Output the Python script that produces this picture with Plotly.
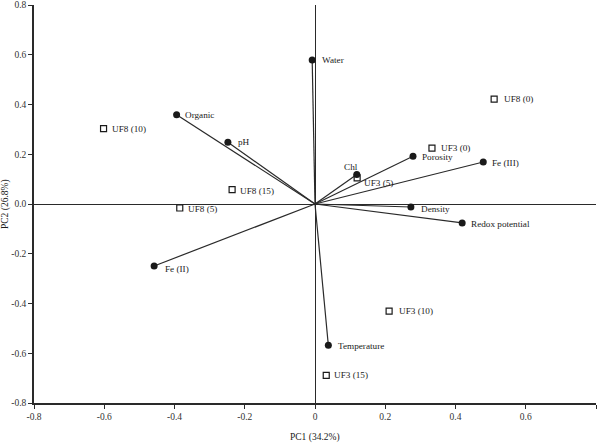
import plotly.graph_objects as go

# Variable loadings (filled circles, joined to origin)
var_names = ["Water", "Organic", "pH", "Chl", "Porosity", "Fe (III)", "Density",
             "Redox potential", "Temperature", "Fe (II)"]
var_pc1 = [-0.008, -0.394, -0.248, 0.119, 0.279, 0.479, 0.273, 0.419, 0.038, -0.458]
var_pc2 = [0.579, 0.359, 0.248, 0.119, 0.192, 0.169, -0.012, -0.076, -0.568, -0.249]

# Sample scores (open squares)
smp_names = ["UF8 (10)", "UF8 (15)", "UF8 (5)", "UF8 (0)", "UF3 (0)", "UF3 (5)",
             "UF3 (10)", "UF3 (15)"]
smp_pc1 = [-0.602, -0.236, -0.385, 0.510, 0.333, 0.120, 0.211, 0.032]
smp_pc2 = [0.303, 0.058, -0.016, 0.422, 0.225, 0.105, -0.431, -0.689]

tick_vals = [-0.8, -0.6, -0.4, -0.2, 0.0, 0.2, 0.4, 0.6, 0.8]
x_tick_text = ["-0.8", "-0.6", "-0.4", "-0.2", "0", "0.2", "0.4", "0.6", "0.8"]
y_tick_text = ["-0.8", "-0.6", "-0.4", "-0.2", "0.0", "0.2", "0.4", "0.6", "0.8"]

# label pixel offsets (x shift of left edge, y shift downward), by label
label_offsets = {
    "Water": (8, 0), "Organic": (6, 0), "pH": (8, 0), "Porosity": (7, 1),
    "Fe (III)": (7, 1), "Density": (8, 2), "Redox potential": (7, 1),
    "Temperature": (8, 1), "Fe (II)": (9, 3),
    "UF8 (10)": (6, 0), "UF8 (15)": (6, 1), "UF8 (5)": (6, 1), "UF8 (0)": (8, 0),
    "UF3 (0)": (7, 0), "UF3 (5)": (5, 5), "UF3 (10)": (8, 0), "UF3 (15)": (6, 0),
}

FONT = "Liberation Serif, Times New Roman, serif"
INK = "#1a1a1a"
LBL = 9.2

fig = go.Figure()

# vectors from origin
lx, ly = [], []
for x, y in zip(var_pc1, var_pc2):
    lx += [0, x, None]
    ly += [0, y, None]
fig.add_trace(go.Scatter(x=lx, y=ly, mode="lines",
                         line=dict(color="#2a2a2a", width=1.2), hoverinfo="skip"))

fig.add_trace(go.Scatter(x=var_pc1, y=var_pc2, mode="markers",
                         marker=dict(symbol="circle", size=7, color=INK),
                         text=var_names))
fig.add_trace(go.Scatter(x=smp_pc1, y=smp_pc2, mode="markers",
                         marker=dict(symbol="square-open", size=6, color=INK,
                                     line=dict(width=1.2, color=INK)),
                         text=smp_names))

annotations = []
for names, xs, ys in ((var_names, var_pc1, var_pc2), (smp_names, smp_pc1, smp_pc2)):
    for n, x, y in zip(names, xs, ys):
        if n == "Chl":
            annotations.append(dict(x=x, y=y, text=n, showarrow=False,
                                    xanchor="center", yanchor="middle",
                                    xshift=-6, yshift=7,
                                    font=dict(family=FONT, size=LBL, color=INK)))
            continue
        dx, dy = label_offsets[n]
        annotations.append(dict(x=x, y=y, text=n, showarrow=False,
                                xanchor="left", yanchor="middle",
                                xshift=dx, yshift=-dy,
                                font=dict(family=FONT, size=LBL, color=INK)))

annotations.append(dict(x=0.5, y=0, xref="paper", yref="paper", text="PC1 (34.2%)",
                        showarrow=False, yanchor="middle", yshift=-34,
                        font=dict(family=FONT, size=9.5, color=INK)))
annotations.append(dict(x=0, y=0.5, xref="paper", yref="paper", text="PC2 (26.8%)",
                        showarrow=False, textangle=-90, xanchor="center",
                        xshift=-29, font=dict(family=FONT, size=9.5, color=INK)))

axis_common = dict(
    range=[-0.8, 0.8], tickvals=tick_vals, showgrid=False, automargin=False,
    zeroline=True, zerolinecolor="#2a2a2a", zerolinewidth=1.2,
    showline=True, linecolor="#2a2a2a", linewidth=1.5,
    ticks="outside", ticklen=4, tickwidth=1.2, tickcolor="#2a2a2a",
    tickfont=dict(family=FONT, size=9.5, color="#333"),
)

fig.update_layout(
    width=601, height=443,
    margin=dict(l=34, r=5, t=5, b=40),
    paper_bgcolor="white", plot_bgcolor="white",
    showlegend=False,
    annotations=annotations,
    xaxis=dict(**axis_common, ticktext=x_tick_text),
    yaxis=dict(**axis_common, ticktext=y_tick_text),
)

fig.write_html("out.html")
